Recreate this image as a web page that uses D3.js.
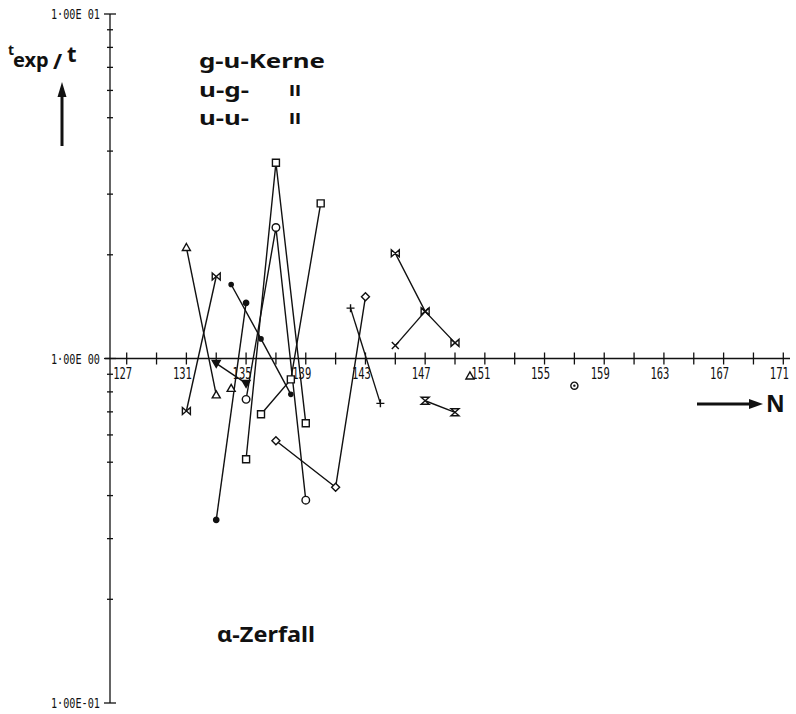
<!DOCTYPE html>
<html>
<head>
<meta charset="utf-8" />
<script src="https://d3js.org/d3.v7.min.js"></script>
<style>
  body { margin: 0; background: #fff; }
  .tick text { font-family: "DejaVu Sans Mono", monospace; font-size: 15px; fill: #111; }
  .ylab { font-family: "DejaVu Sans Mono", monospace; font-size: 14px; fill: #111; }
  .big { font-family: "Noto Sans", "DejaVu Sans", sans-serif; font-weight: bold; fill: #111; }
</style>
</head>
<body>
<script>
  // tick labels
  var xTickLabels = [127, 131, 135, 139, 143, 147, 151, 155, 159, 163, 167, 171];
  var yTickLabels = ["1\u00b700E-01", "1\u00b700E 00", "1\u00b700E 01"];

  // isotope chains: neutron number N and t_exp/t
  var triN = [131, 133],        triT = [2.10, 0.784];
  var bowN = [131, 133],        bowT = [0.704, 1.73];
  var tdnN = [133, 135],        tdnT = [0.968, 0.847];
  var dotN = [133, 135],        dotT = [0.340, 1.45];
  var sdotN = [134, 136, 138],  sdotT = [1.64, 1.14, 0.787];
  var sqN = [135, 137, 139],    sqT = [0.510, 3.70, 0.649];
  var cirN = [135, 137, 139],   cirT = [0.761, 2.40, 0.388];
  var sq2N = [136, 138, 140],   sq2T = [0.689, 0.870, 2.82];
  var diaN = [137, 141, 143],   diaT = [0.577, 0.423, 1.51];
  var plusN = [142, 144],       plusT = [1.40, 0.741];
  var hbN = [145, 147, 149],    hbT = [2.02, 1.37, 1.11];
  var crN = [145, 147],         crT = [1.09, 1.37];
  var hgN = [147, 149],         hgT = [0.754, 0.698];
  // single points
  var tri1N = [134, 150],       tri1T = [0.819, 0.890];
  var odotN = [157],            odotT = [0.834];

  var series = [
    {m: "tri", n: triN, t: triT},
    {m: "bow", n: bowN, t: bowT},
    {m: "tdn", n: tdnN, t: tdnT},
    {m: "dot", n: dotN, t: dotT},
    {m: "sdot", n: sdotN, t: sdotT},
    {m: "sq", n: sqN, t: sqT},
    {m: "cir", n: cirN, t: cirT},
    {m: "sq", n: sq2N, t: sq2T},
    {m: "dia", n: diaN, t: diaT},
    {m: "plus", n: plusN, t: plusT},
    {m: "bow", n: hbN, t: hbT},
    {m: "cross", n: crN, t: crT},
    {m: "hg", n: hgN, t: hgT},
    {m: "tri", n: tri1N, t: tri1T, single: true},
    {m: "odot", n: odotN, t: odotT}
  ];

  var w = 796, h = 714;
  var x = d3.scaleLinear().domain([127, 171]).range([126.7, 783.3]);
  var y = d3.scaleLog().domain([0.1, 10]).range([703, 14]);
  var x0 = 110, y0 = y(1);

  var svg = d3.select("body").append("svg")
              .attr("width", w).attr("height", h);

  var ax = svg.append("g").attr("stroke", "#111").attr("stroke-width", 1.3).attr("fill", "none");

  // y axis
  ax.append("line").attr("x1", x0).attr("x2", x0).attr("y1", y(10)).attr("y2", y(0.1));
  y.ticks().forEach(function(v) {
    var major = Math.abs(Math.log10(v) - Math.round(Math.log10(v))) < 1e-6;
    var s = major ? 6 : 3;
    ax.append("line").attr("x1", x0 - s).attr("x2", x0 + s).attr("y1", y(v)).attr("y2", y(v));
  });
  svg.selectAll(".ylab").data([0.1, 1, 10]).enter().append("text")
     .attr("class", "ylab")
     .attr("x", x0 - 59).attr("y", function(d) { return y(d) + 5; })
     .attr("textLength", 49).attr("lengthAdjust", "spacingAndGlyphs")
     .text(function(d, i) { return yTickLabels[i]; });

  // x axis
  ax.append("line").attr("x1", 105).attr("x2", 790).attr("y1", y0).attr("y2", y0);
  d3.range(127, 172, 2).forEach(function(n) {
    ax.append("line").attr("x1", x(n)).attr("x2", x(n)).attr("y1", y0 - 6).attr("y2", y0 + 6);
  });
  var xt = svg.append("g").attr("class", "tick");
  xt.selectAll("text").data(xTickLabels).enter().append("text")
    .attr("x", function(d) { return x(d) - 13.5; })
    .attr("y", y0 + 20)
    .attr("textLength", 19).attr("lengthAdjust", "spacingAndGlyphs")
    .text(function(d) { return d; });

  // marker shapes
  function marker(g, m, cx, cy) {
    var p = g.append("path").attr("transform", "translate(" + cx + "," + cy + ")")
             .attr("stroke", "#111").attr("stroke-width", 1.4).attr("fill", "#fff");
    if (m === "tri") p.attr("d", "M0,-4L4,3L-4,3Z");
    else if (m === "bow") p.attr("d", "M-4,-3.5L4,3.5L4,-3.5L-4,3.5Z");
    else if (m === "tdn") p.attr("d", "M-4,-3L4,-3L0,4Z").attr("fill", "#111");
    else if (m === "dot") p.attr("d", d3.symbol(d3.symbolCircle, 22)()).attr("fill", "#111");
    else if (m === "sdot") p.attr("d", d3.symbol(d3.symbolCircle, 14)()).attr("fill", "#111");
    else if (m === "sq") p.attr("d", "M-3.5,-3.5H3.5V3.5H-3.5Z");
    else if (m === "cir") p.attr("d", d3.symbol(d3.symbolCircle, 45)());
    else if (m === "dia") p.attr("d", "M0,-4L4,0L0,4L-4,0Z");
    else if (m === "plus") p.attr("d", "M-4,0H4M0,-4V4");
    else if (m === "cross") p.attr("d", "M-3.5,-3.5L3.5,3.5M3.5,-3.5L-3.5,3.5");
    else if (m === "hg") p.attr("d", "M-4,-3.5H4L-4,3.5H4Z");
    else if (m === "odot") {
      p.attr("d", d3.symbol(d3.symbolCircle, 40)());
      g.append("circle").attr("cx", cx).attr("cy", cy).attr("r", 1.2).attr("fill", "#111");
    }
  }

  var line = d3.line()
               .x(function(d) { return x(d[0]); })
               .y(function(d) { return y(d[1]); });

  var plot = svg.append("g");
  series.forEach(function(s) {
    var pts = s.n.map(function(n, i) { return [n, s.t[i]]; });
    if (!s.single && pts.length > 1) {
      plot.append("path").attr("d", line(pts))
          .attr("fill", "none").attr("stroke", "#111").attr("stroke-width", 1.4);
    }
  });
  series.forEach(function(s) {
    s.n.forEach(function(n, i) { marker(plot, s.m, x(n), y(s.t[i])); });
  });

  // annotations
  var a = svg.append("g");
  a.append("text").attr("class", "big").attr("x", 8).attr("y", 55).attr("font-size", 14).text("t");
  a.append("text").attr("class", "big").attr("x", 13).attr("y", 67).attr("font-size", 20).text("exp");
  a.append("text").attr("class", "big").attr("x", 53).attr("y", 69).attr("font-size", 22).attr("font-weight", "normal").text("/");
  a.append("text").attr("class", "big").attr("x", 67).attr("y", 62).attr("font-size", 22).text("t");
  a.append("line").attr("x1", 62).attr("x2", 62).attr("y1", 146).attr("y2", 94)
   .attr("stroke", "#111").attr("stroke-width", 3);
  a.append("path").attr("d", "M62,82L57.5,97L66.5,97Z").attr("fill", "#111");

  a.append("text").attr("class", "big").attr("x", 199).attr("y", 68).attr("font-size", 20)
   .attr("textLength", 126).attr("lengthAdjust", "spacingAndGlyphs").text("g-u-Kerne");
  a.append("text").attr("class", "big").attr("x", 199).attr("y", 96.5).attr("font-size", 20)
   .attr("textLength", 50).attr("lengthAdjust", "spacingAndGlyphs").text("u-g-");
  a.append("text").attr("class", "big").attr("x", 289).attr("y", 96).attr("font-size", 20).text("\u0131\u0131");
  a.append("text").attr("class", "big").attr("x", 199).attr("y", 125).attr("font-size", 20)
   .attr("textLength", 50).attr("lengthAdjust", "spacingAndGlyphs").text("u-u-");
  a.append("text").attr("class", "big").attr("x", 289).attr("y", 124).attr("font-size", 20).text("\u0131\u0131");

  a.append("text").attr("class", "big").attr("x", 217).attr("y", 642).attr("font-size", 21)
   .attr("textLength", 98).attr("lengthAdjust", "spacingAndGlyphs").text("\u03b1-Zerfall");

  a.append("line").attr("x1", 697).attr("x2", 752).attr("y1", 404).attr("y2", 404)
   .attr("stroke", "#111").attr("stroke-width", 3);
  a.append("path").attr("d", "M763,404L749,399L749,409Z").attr("fill", "#111");
  a.append("text").attr("class", "big").attr("x", 766).attr("y", 412).attr("font-size", 23).text("N");
</script>
</body>
</html>
